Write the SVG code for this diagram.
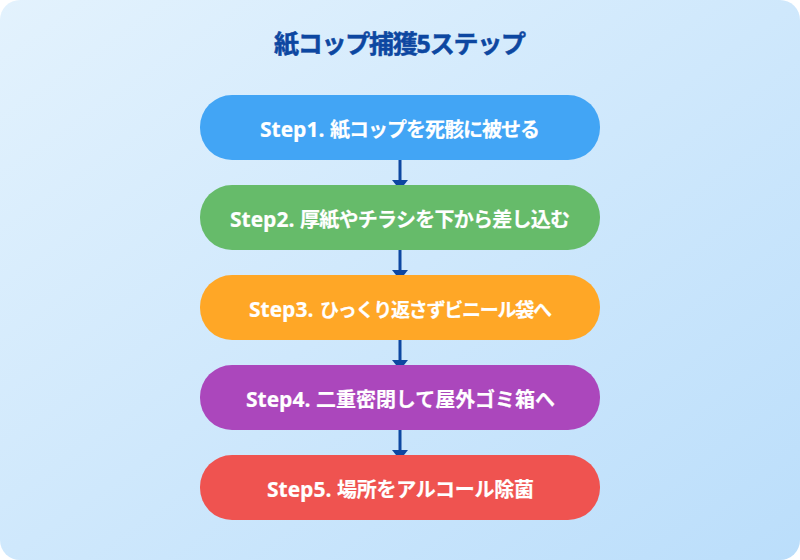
<svg xmlns="http://www.w3.org/2000/svg" width="800" height="560" viewBox="0 0 800 560">
<style>
text{font-family:"Open Sans","Noto Sans CJK JP",sans-serif;font-weight:700}
.t{font-size:20px;fill:#fff;stroke:#fff;stroke-width:.2px;text-anchor:start}
.t .l{font-size:21px}
.t .s{font-size:19px}
.title{font-size:25px;fill:#0d47a1;stroke:#0d47a1;stroke-width:.5px;text-anchor:middle}
.c{stroke:#0d47a1;stroke-width:3;fill:none;marker-end:url(#a)}
</style>
<defs>
<linearGradient id="bg" x1="0" y1="0" x2="1" y2="1"><stop offset="0" stop-color="#e3f2fd"/><stop offset="1" stop-color="#bbdefb"/></linearGradient>
<marker id="a" markerUnits="userSpaceOnUse" markerWidth="10" markerHeight="16" refX="0" refY="8" orient="auto" viewBox="0 0 10 16"><path d="M0 0L10 8L0 16z" fill="#0d47a1"/></marker>
</defs>
<rect width="800" height="560" rx="20" fill="url(#bg)"/>
<text class="title" x="400" y="53" textLength="252">紙コップ捕獲5ステップ</text>
<g id="connectors">
<path class="c" d="M400 160V180"/>
<path class="c" d="M400 250V270"/>
<path class="c" d="M400 340V360"/>
<path class="c" d="M400 430V450"/>
</g>
<g id="step1"><rect x="200" y="95" width="400" height="65" rx="32" fill="#42a5f5"/><text class="t" y="137"><tspan class="l" x="260">Step1.</tspan> <tspan x="330" textLength="210">紙コップを死骸に被せる</tspan></text></g>
<g id="step2"><rect x="200" y="185" width="400" height="65" rx="32" fill="#66bb6a"/><text class="t" y="227"><tspan class="l" x="230">Step2.</tspan> <tspan x="300" textLength="270">厚紙やチラシを下から差し込む</tspan></text></g>
<g id="step3"><rect x="200" y="275" width="400" height="65" rx="32" fill="#ffa726"/><text class="t" y="317"><tspan class="l" x="249">Step3.</tspan> <tspan class="s" x="320" textLength="232">ひっくり返さずビニール袋へ</tspan></text></g>
<g id="step4"><rect x="200" y="365" width="400" height="65" rx="32" fill="#ab47bc"/><text class="t" y="407"><tspan class="l" x="246">Step4.</tspan> <tspan x="316" textLength="239">二重密閉して屋外ゴミ箱へ</tspan></text></g>
<g id="step5"><rect x="200" y="455" width="400" height="65" rx="32" fill="#ef5350"/><text class="t" y="497"><tspan class="l" x="267">Step5.</tspan> <tspan x="337" textLength="197">場所をアルコール除菌</tspan></text></g>
</svg>
